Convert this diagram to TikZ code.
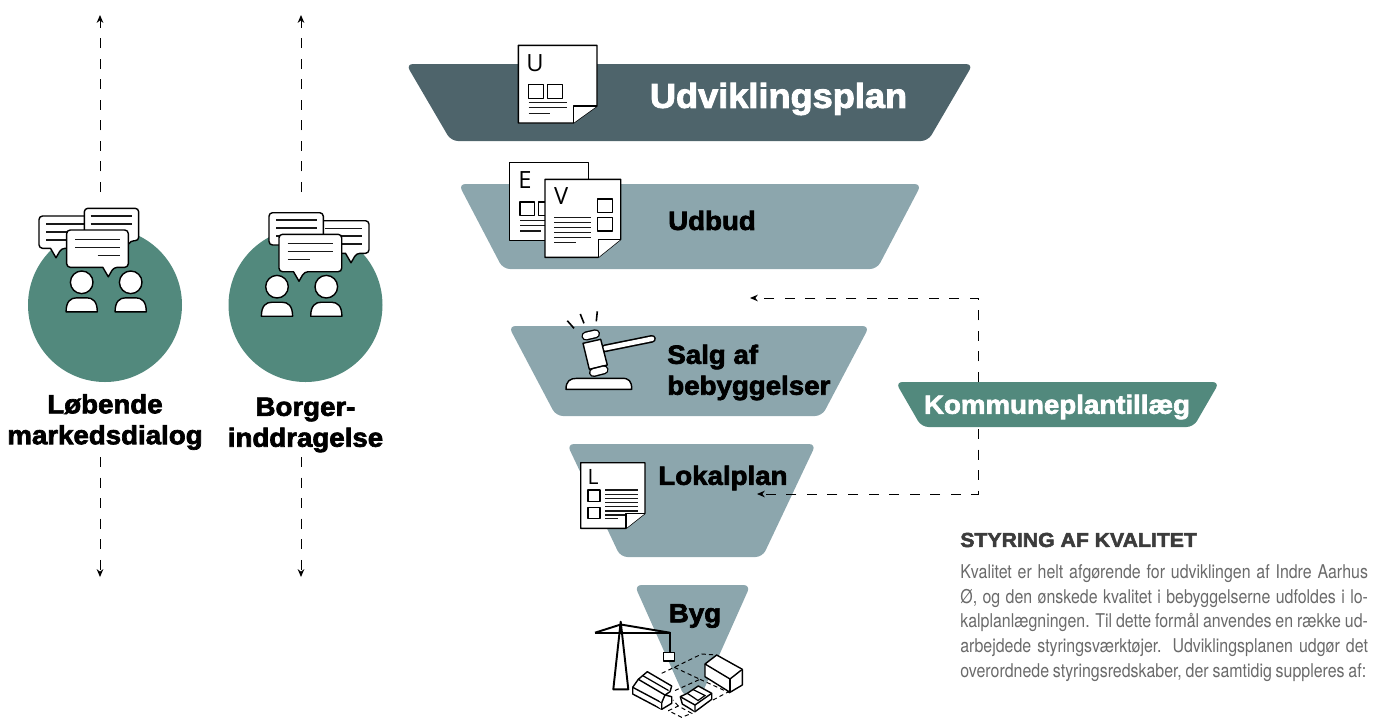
\documentclass[tikz,border=0pt]{standalone}
\usepackage{fontspec}
\usepackage{xcolor}
\usetikzlibrary{arrows.meta}
\setmainfont{TeX Gyre Heros}
\newfontfamily\heavyfont[BoldFeatures={FakeBold=2.6,FakeStretch=1.05}]{Liberation Sans}
\newfontfamily\bodyfont[FakeStretch=0.84]{TeX Gyre Heros}
\newfontfamily\letterfont{Open Sans}
\definecolor{darkplan}{HTML}{4E646B}
\definecolor{lightplan}{HTML}{8CA6AD}
\definecolor{greenplan}{HTML}{52897D}
\definecolor{bodygray}{HTML}{6A6A6A}
\definecolor{headgray}{HTML}{3C3C3C}
\tikzset{
  funnelshape/.style={rounded corners=4pt},
  icon/.style={draw=black,fill=white,line width=0.8pt,line join=round},
  textline/.style={draw=black!90,line width=0.75pt},
  flow/.style={line width=0.55pt,dash pattern=on 5.7pt off 6pt,-{Stealth[length=4.5pt,width=3.8pt]}},
  lot/.style={line width=0.55pt,dash pattern=on 2.4pt off 1.8pt},
  heavy/.style={font=\heavyfont\bfseries\fontsize{15}{17.6}\selectfont,align=center,inner sep=0pt},
  lettering/.style={font=\letterfont\fontsize{13.5}{14}\selectfont,inner sep=0pt}
}
% x, half width top, half width bottom, y top, y bottom, colour
\newcommand{\funnel}[6]{\fill[funnelshape,#6] ({#1-#2},#4) -- ({#1+#2},#4) -- ({#1+#3},#5) -- ({#1-#3},#5) -- cycle;}
% left, top, right, bottom, fold x, fold y
\newcommand{\docpage}[6]{%
  \draw[icon] (#1,#2) -- (#3,#2) -- (#3,#6) -- (#5,#4) -- (#1,#4) -- cycle;
  \draw[icon] (#5,#4) -- (#5,#6) -- (#3,#6);}
% left, top, right, bottom, tail x
\newcommand{\bubble}[5]{\draw[icon,rounded corners=2pt] (#1,#2) -- (#3,#2) -- (#3,#4) -- ({#5+5.5},#4) [sharp corners] -- (#5,{#4+9.5}) -- ({#5-5.5},#4) [rounded corners=2pt] -- (#1,#4) -- cycle;}
% head x, head y
\newcommand{\person}[2]{%
  \draw[icon] (#1,#2) circle (11.3);
  \draw[icon] ({#1-15.6},{#2+29.5}) .. controls ({#1-15.6},{#2+19}) and ({#1-11},{#2+15.5}) .. ({#1-5},{#2+15.5}) -- ({#1+5},{#2+15.5}) .. controls ({#1+11},{#2+15.5}) and ({#1+15.6},{#2+19}) .. ({#1+15.6},{#2+29.5}) -- cycle;}
\begin{document}
\begin{tikzpicture}[x=0.02cm,y=-0.02cm]
\useasboundingbox (0,0) rectangle (1373,718);
% Funnel
\funnel{689.5}{283.5}{238.5}{64}{141}{darkplan}
\funnel{690}{231.5}{187}{184}{269}{lightplan}
\funnel{689}{180.5}{133}{326}{416}{lightplan}
\funnel{691.5}{124.5}{71}{444}{557}{lightplan}
\funnel{692.5}{58}{8}{585}{697}{lightplan}
\funnel{1057.5}{162}{136}{382}{427}{greenplan}
% Circles
\fill[greenplan] (105,305) circle (77);
\fill[greenplan] (305.5,305) circle (77);
% Dialog arrows
\node[heavy] (markedlabel) at (105,422) {Løbende\\markedsdialog};
\node[heavy] (borgerlabel) at (305.5,425) {Borger-\\inddragelse};
\coordinate (markedtop) at (100,192);
\coordinate (markedend) at (100,15);
\coordinate (markedlow) at (100,457);
\coordinate (markedbot) at (100,577);
\coordinate (borgertop) at (301,192);
\coordinate (borgerend) at (301,15);
\coordinate (borgerlow) at (301,457);
\coordinate (borgerbot) at (301,577);
\draw[flow] (markedtop) -- (markedend);
\draw[flow] (markedlow) -- (markedbot);
\draw[flow] (borgertop) -- (borgerend);
\draw[flow] (borgerlow) -- (borgerbot);
% Left bubbles
\bubble{39}{216}{100}{248.3}{56}
\foreach \y in {224,232,240} \draw[textline] (46,\y) -- (90,\y);
\bubble{84.3}{208.3}{138.7}{240.7}{125}
\foreach \y in {216,224} \draw[textline] (90.7,\y) -- (132.3,\y);
\bubble{66.7}{230}{128.3}{267.3}{108.3}
\foreach \y in {239.3,247.3} \draw[textline] (75,\y) -- (120,\y);
\draw[textline] (97.7,255.3) -- (120,255.3);
\person{81.7}{282.3}
\person{130.7}{282.3}
% Right bubbles
\bubble{310}{220.7}{369}{253.3}{351}
\foreach \y in {228.3,236,244} \draw[textline] (325,\y) -- (361.7,\y);
\bubble{269}{212.7}{323.3}{245}{285}
\foreach \y in {220,228,236} \draw[textline] (276,\y) -- (316.7,\y);
\bubble{279}{234.3}{341.7}{271.7}{299}
\foreach \y in {243.3,251.7} \draw[textline] (287.7,\y) -- (332.7,\y);
\draw[textline] (287.7,259.7) -- (310,259.7);
\person{277}{286.7}
\person{326.3}{286.7}
% Document U
\docpage{518.3}{45.3}{597}{123}{573.3}{106}
\node[lettering] (letteru) at (535,63.5) {U};
\draw[icon] (528.7,84.3) rectangle (543.3,98.3);
\draw[icon] (547.7,84.3) rectangle (562.3,98.3);
\foreach \y in {102.7,107.7} \draw[textline] (528.7,\y) -- (566.7,\y);
\draw[textline] (528.7,113.3) -- (550,113.3);
% Document E
\docpage{509.3}{162.7}{588.3}{240.7}{588.3}{240.7}
\node[lettering] (lettere) at (525,180.5) {E};
\draw[icon] (520,202) rectangle (534.3,215.7);
\draw[icon] (538.3,202) rectangle (552,215.7);
\foreach \y in {220.7,225.7} \draw[textline] (520,\y) -- (550,\y);
\draw[textline] (520,231) -- (541,231);
% Document V
\docpage{545}{179.3}{620.7}{257.3}{598.3}{239.3}
\node[lettering] (letterv) at (561.3,196.5) {V};
\draw[icon] (597.7,199) rectangle (612.7,212.3);
\draw[icon] (597.7,217.7) rectangle (612.7,231);
\foreach \y in {217.7,222.7,227.7,232.7,237.3} \draw[textline] (554,\y) -- (591,\y);
\draw[textline] (554,242.7) -- (575.7,242.7);
% Document L
\docpage{580.7}{462.7}{645}{528.3}{626}{513.3}
\node[lettering,font=\letterfont\fontsize{12}{13}\selectfont] (letterl) at (593,476.5) {L};
\draw[icon] (588,490) rectangle (600,501.3);
\draw[icon] (588,507.3) rectangle (600,518.7);
\foreach \y in {490,494.3,498.7,502.3,506.7,511} \draw[textline] (605,\y) -- (638.3,\y);
\draw[textline] (605,515) -- (625,515);
\draw[textline] (605,518.5) -- (618,518.5);
% Gavel
\draw[line width=0.9pt] (567.3,320.7) -- (574,328.3);
\draw[line width=0.9pt] (580.3,314) -- (584,323.3);
\draw[line width=0.9pt] (597.3,311.3) -- (596.3,321.3);
\draw[line width=4.4pt,line cap=round] (605,348.3) -- (652,338.8);
\draw[white,line width=2.6pt,line cap=round] (605,348.3) -- (652,338.8);
\draw[icon] (583,343.3) -- (600.7,339.3) -- (607.3,365) -- (589.3,369.3) -- cycle;
\draw[line width=5.2pt,line cap=round] (586,336) -- (595.5,333.8);
\draw[white,line width=3.6pt,line cap=round] (586,336) -- (595.5,333.8);
\draw[line width=5.2pt,line cap=round] (593.5,372.5) -- (604,369.8);
\draw[white,line width=3.6pt,line cap=round] (593.5,372.5) -- (604,369.8);
\draw[icon] (566,389.3) .. controls (566,381) and (570,378.3) .. (577,378.3) -- (622,378.3) .. controls (629,378.3) and (631.7,381) .. (631.7,389.3) -- cycle;
% Crane
\draw[line width=1.1pt,line join=round] (613.3,689.3) -- (620.7,621.7) -- (628.3,689.3) -- cycle;
\draw[line width=1.1pt] (595,632.7) -- (670,632.7) -- (670,652.7);
\draw[line width=1.1pt] (595,632.7) -- (620.7,624.5) -- (670,632.7);
\draw[icon] (663.3,652.7) rectangle (674.7,661);
% Building lots
\draw[lot] (661.7,673.3) -- (674.3,667.3) -- (701.7,654) -- (716.7,655);
\draw[lot] (674.3,667.3) -- (700,679.3) -- (675,690.5);
\draw[lot] (700,679.3) -- (730,693);
\draw[lot] (733,681) -- (728,692);
\draw[lot] (713,700) -- (728,692);
\draw[lot] (668.3,710.7) -- (678.3,706) -- (691.7,713.3) -- (681.7,717.3) -- cycle;
\draw[lot] (678.3,706) -- (673,700);
% Buildings
\draw[icon] (705,664) -- (716.7,655) -- (742.3,669.3) -- (742.3,685) -- (730,692.3) -- (705,676.7) -- cycle;
\draw[icon] (705,664) -- (730,679) -- (742.3,669.3);
\draw[icon] (730,679) -- (730,692.3);
\draw[icon] (632.7,687.3) -- (638.3,679.3) -- (647.3,671.7) -- (671.7,686) -- (670,691.7) -- (665,695) -- (671.7,696.7) -- (671.7,703.3) -- (661.7,709.3) -- (632.7,694) -- cycle;
\draw[icon] (632.7,687.3) -- (661.7,702.7) -- (661.7,709.3);
\draw[icon] (661.7,702.7) -- (665,695) -- (638.3,679.3);
\draw[line width=0.7pt] (642.5,675.5) -- (668.5,690.5);
\draw[icon] (680.3,696.7) -- (687.3,693.3) -- (698.3,686) -- (711.7,693.3) -- (711.7,699.3) -- (695,711.7) -- (682.3,704) -- cycle;
\draw[icon] (680.3,696.7) -- (695,705) -- (695,711.7);
\draw[icon] (695,705) -- (711.7,693.3);
\draw[line width=0.7pt] (687.3,693.3) -- (698,700.5) -- (705,695.5) -- (693,689.5);
% Labels
\node[heavy,white,font=\heavyfont\bfseries\fontsize{19.6}{22}\selectfont] (udviklingslabel) at (778.5,99) {Udviklingsplan};
\node[heavy] (udbudlabel) at (712,220.5) {Udbud};
\node[heavy,align=left,anchor=west] (salglabel) at (667,372.5) {Salg af\\bebyggelser};
\node[heavy,anchor=west] (lokallabel) at (658,478) {Lokalplan};
\node[heavy] (byglabel) at (695,616) {Byg};
\node[heavy,white] (kommunelabel) at (1057,407) {Kommuneplantillæg};
% Kommuneplan arrows
\coordinate (kommunetop) at (978,382);
\coordinate (kommunebot) at (978,429);
\coordinate (udbudpil) at (750,298);
\coordinate (lokalpil) at (757,494);
\draw[flow] (kommunetop) |- (udbudpil);
\draw[flow] (kommunebot) |- (lokalpil);
% Text block
\node[anchor=west,inner sep=0pt,text=headgray,font=\heavyfont\bfseries\fontsize{11.5}{13}\selectfont] (styringhead) at (960,540) {STYRING AF KVALITET};
\node[anchor=north west,inner sep=0pt,text=bodygray,align=left,font=\bodyfont\fontsize{10.8}{14}\selectfont] (styringtext) at (960,564.5) {%
\makebox[232pt][s]{Kvalitet er helt afgørende for udviklingen af Indre Aarhus}\\
\makebox[232pt][s]{Ø, og den ønskede kvalitet i bebyggelserne udfoldes i lo-}\\
\makebox[232pt][s]{kalplanlægningen. Til dette formål anvendes en række ud-}\\
\makebox[232pt][s]{arbejdede styringsværktøjer. Udviklingsplanen udgør det}\\
\makebox[231pt][s]{overordnede styringsredskaber, der samtidig suppleres af:}};
\end{tikzpicture}
\end{document}
